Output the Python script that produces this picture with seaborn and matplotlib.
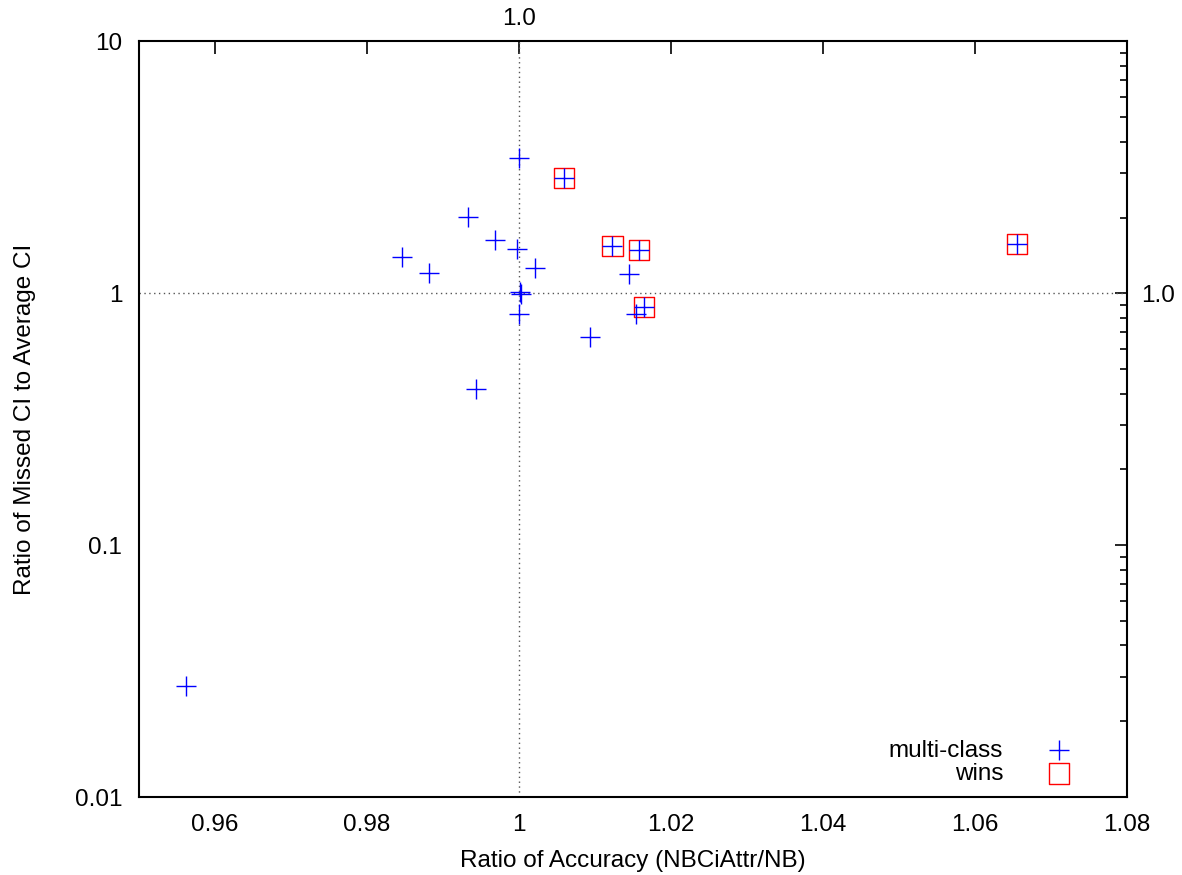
import matplotlib

matplotlib.use("Agg")

import matplotlib.pyplot as plt
import matplotlib.ticker as mticker
import pandas as pd
import seaborn as sns

# all data sets (multi-class)
ACC_RATIO = [1.0000, 1.0059, 0.9933, 0.9968, 0.9998, 0.9846, 0.9882, 1.0021,
             1.0123, 1.0158, 1.0145, 1.0001, 1.0003, 1.0000, 1.0164, 1.0154,
             1.0093, 0.9943, 0.9562, 1.0655]
CI_RATIO = [3.44, 2.88, 2.01, 1.63, 1.50, 1.40, 1.20, 1.26,
            1.54, 1.49, 1.19, 1.01, 0.995, 0.83, 0.885, 0.828,
            0.668, 0.416, 0.0277, 1.565]

# data sets where NBCiAttr wins
WIN_ACC = [1.0059, 1.0123, 1.0158, 1.0164, 1.0655]
WIN_CI = [2.88, 1.54, 1.49, 0.885, 1.565]

X_TICKS = [0.96, 0.98, 1.00, 1.02, 1.04, 1.06, 1.08]
Y_TICKS = [0.01, 0.1, 1, 10]

FS = 17.5


def main() -> None:
    sns.set_style("white")
    plt.rcParams["font.family"] = ["Liberation Sans", "DejaVu Sans"]
    plt.rcParams["font.size"] = FS
    plt.rcParams["text.color"] = "black"
    plt.rcParams["axes.labelcolor"] = "black"
    plt.rcParams["xtick.color"] = "black"
    plt.rcParams["ytick.color"] = "black"

    all_df = pd.DataFrame({"acc": ACC_RATIO, "ci": CI_RATIO})
    win_df = pd.DataFrame({"acc": WIN_ACC, "ci": WIN_CI})

    fig = plt.figure(figsize=(11.82, 8.75), dpi=100)
    ax = fig.add_axes([0.1176, 0.0891, 0.8359, 0.8635])

    ax.axvline(1.0, color="#555555", linestyle=(0, (1, 2.5)), linewidth=1.0, zorder=1)
    ax.axhline(1.0, color="#555555", linestyle=(0, (1, 2.5)), linewidth=1.0, zorder=1)

    sns.scatterplot(data=all_df, x="acc", y="ci", marker="+", s=200,
                    color="#0000ff", linewidth=1.0, label="multi-class", ax=ax, zorder=3)
    sns.scatterplot(data=win_df, x="acc", y="ci", marker="s", s=210,
                    facecolors="none", edgecolor="#ff0000", linewidth=1.0,
                    label="wins", ax=ax, zorder=2)

    ax.set_yscale("log")
    ax.set_xlim(0.95, 1.08)
    ax.set_ylim(0.01, 10)
    ax.set_xticks(X_TICKS)
    ax.xaxis.set_major_formatter(mticker.FuncFormatter(lambda v, p: f"{v:g}"))
    ax.set_yticks(Y_TICKS)
    ax.yaxis.set_major_formatter(mticker.FuncFormatter(lambda v, p: f"{v:g}"))
    ax.yaxis.set_minor_formatter(mticker.NullFormatter())

    ax.tick_params(which="both", direction="in", top=True, right=True,
                   labelsize=FS, color="black", width=1.2)
    ax.tick_params(which="major", length=9, pad=12)
    ax.tick_params(which="minor", length=5)
    for s in ax.spines.values():
        s.set_color("black")
        s.set_linewidth(1.5)

    ax.set_xlabel("Ratio of Accuracy (NBCiAttr/NB)", fontsize=FS, labelpad=10)
    ax.set_ylabel("Ratio of Missed CI to Average CI", fontsize=FS, labelpad=28)

    top = ax.secondary_xaxis("top")
    top.set_xticks([1.0], labels=["1.0"])
    top.tick_params(which="both", length=0, pad=8, labelsize=FS)
    top.spines["top"].set_visible(False)
    right = ax.secondary_yaxis("right")
    right.set_yticks([1.0], labels=["1.0"])
    right.yaxis.set_minor_locator(mticker.NullLocator())
    right.tick_params(which="both", length=0, pad=10, labelsize=FS)
    right.spines["right"].set_visible(False)

    ax.legend(loc="lower right", frameon=False, markerfirst=False,
              fontsize=FS, handletextpad=1.3, borderaxespad=0.1,
              labelspacing=0.05, bbox_to_anchor=(0.968, 0.0))

    fig.savefig("out.png", dpi=100, facecolor="white")
    plt.close(fig)


if __name__ == "__main__":
    main()
